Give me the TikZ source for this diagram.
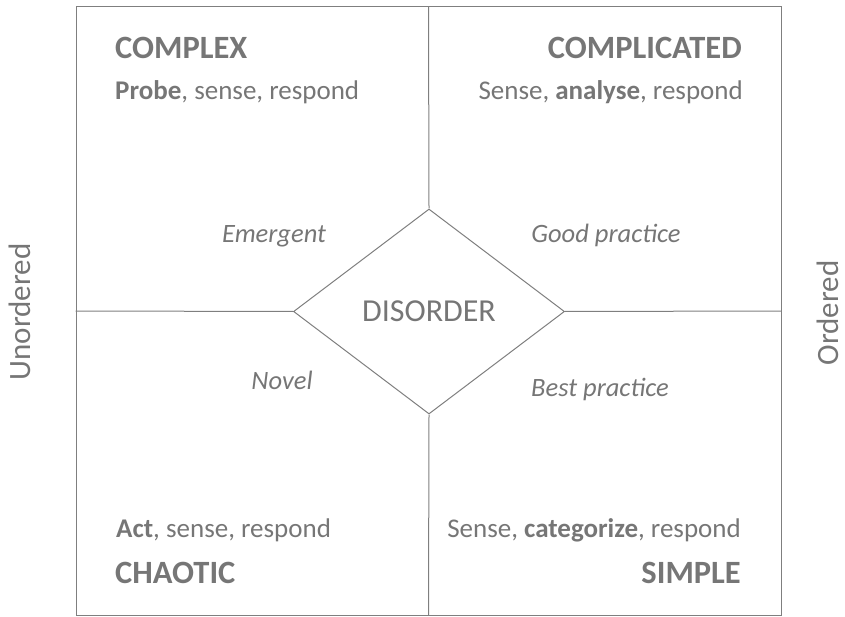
\documentclass[tikz,border=0pt]{standalone}
\usepackage{fontspec}
\setmainfont{Carlito}
\usetikzlibrary{shapes.geometric}
\definecolor{linegray}{HTML}{7F7F7F}
\definecolor{textgray}{HTML}{767676}

\begin{document}
\begin{tikzpicture}[x=1pt,y=-1pt]
      % Definition of styles
      \tikzset{
        field/.style={text=textgray, inner sep=0pt, font=\fontsize{27}{31}\selectfont},
        quadrant/.style={field, font=\fontsize{32.5}{36}\selectfont\bfseries},
        trait/.style={field, font=\fontsize{26.5}{30}\selectfont\itshape},
        axis/.style={field, rotate=90, text depth=0pt, font=\fontsize{31}{34}\selectfont},
        border/.style={draw=linegray, line width=1pt},
      }
      \useasboundingbox (0,0) rectangle (845,617);

      % Frame and centre
      \node[border, minimum width=705pt, minimum height=608pt] (frame) at (428.5,311) {};
      \node[border, diamond, minimum width=271pt, minimum height=205pt, field,
            font=\fontsize{32}{36}\selectfont] (disorder) at (429,311.5) {DISORDER};

      % Dividing lines
      \draw[border] (frame.north) -- (disorder.north);
      \draw[border] (disorder.south) -- (frame.south);
      \draw[border] (frame.west) -- (disorder.west);
      \draw[border] (disorder.east) -- (frame.east);

      % Quadrants
      \node[quadrant, anchor=base west] (complex) at (115,59) {COMPLEX};
      \node[field, anchor=base west] (complexact) at (115,100) {\textbf{Probe}, sense, respond};
      \node[quadrant, anchor=base east] (complicated) at (742,59) {COMPLICATED};
      \node[field, anchor=base east] (complicatedact) at (743,100) {Sense, \textbf{analyse}, respond};
      \node[field, anchor=base west] (chaoticact) at (116,537) {\textbf{Act}, sense, respond};
      \node[quadrant, anchor=base west] (chaotic) at (115,583) {CHAOTIC};
      \node[field, anchor=base east] (simpleact) at (741,537) {Sense, \textbf{categorize}, respond};
      \node[quadrant, anchor=base east] (simple) at (741,583) {SIMPLE};

      % Practices
      \node[trait, anchor=base] (emergent) at (274,243) {Emergent};
      \node[trait, anchor=base] (good) at (606,243) {Good practice};
      \node[trait, anchor=base] (novel) at (282,389) {Novel};
      \node[trait, anchor=base] (best) at (600,396) {Best practice};

      % Axes
      \node[axis, anchor=base] (unordered) at (30,312) {Unordered};
      \node[axis, anchor=base] (ordered) at (838,313) {Ordered};
    \end{tikzpicture}
\end{document}
